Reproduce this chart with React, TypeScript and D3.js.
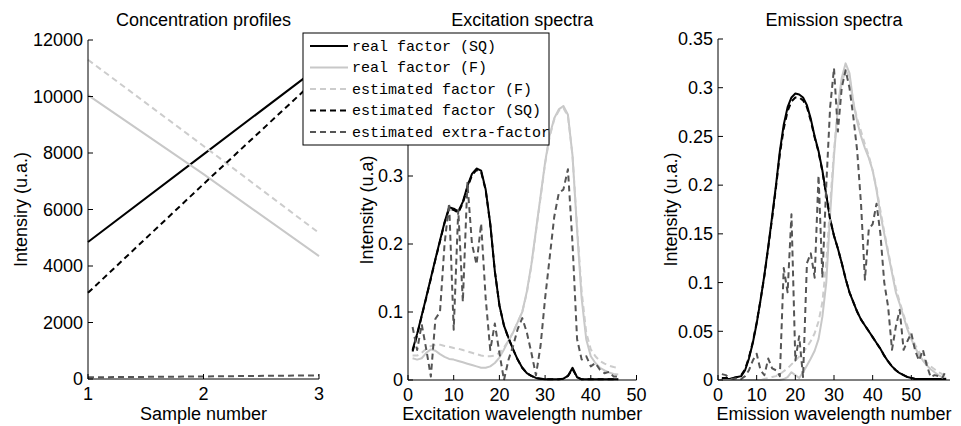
import React from 'react';
import * as d3 from 'd3';

// ---------- data ----------
const samples = [1, 2, 3];
const concRealSQ = [4850, 7950, 11050];
const concRealF = [10050, 7250, 4350];
const concEstF = [11300, 8250, 5170];
const concEstSQ = [3050, 6900, 10700];
const concExtra = [60, 90, 130];

const exIdx = d3.range(1, 47);
const exRealSQ = [0.044, 0.068, 0.095, 0.122, 0.15, 0.178, 0.205, 0.232, 0.254, 0.252, 0.248, 0.262, 0.285, 0.303, 0.311, 0.308, 0.28, 0.23, 0.16, 0.11, 0.08, 0.062, 0.045, 0.03, 0.018, 0.01, 0.006, 0.003, 0.002, 0.001, 0.001, 0.001, 0.001, 0.002, 0.006, 0.018, 0.004, 0.001, 0.001, 0.001, 0.001, 0.001, 0.001, 0.001, 0.001, 0.001];
const exRealF = [0.032, 0.03, 0.032, 0.04, 0.045, 0.043, 0.038, 0.034, 0.031, 0.03, 0.028, 0.026, 0.024, 0.022, 0.02, 0.018, 0.018, 0.02, 0.025, 0.033, 0.045, 0.058, 0.07, 0.085, 0.1, 0.13, 0.17, 0.22, 0.27, 0.32, 0.36, 0.385, 0.398, 0.403, 0.39, 0.33, 0.22, 0.12, 0.06, 0.035, 0.025, 0.018, 0.014, 0.011, 0.009, 0.008];
const exEstF = [0.036, 0.036, 0.04, 0.046, 0.05, 0.052, 0.052, 0.05, 0.049, 0.047, 0.046, 0.044, 0.042, 0.04, 0.038, 0.036, 0.035, 0.035, 0.036, 0.04, 0.048, 0.058, 0.07, 0.085, 0.1, 0.128, 0.168, 0.218, 0.268, 0.318, 0.358, 0.383, 0.396, 0.4, 0.388, 0.33, 0.225, 0.13, 0.07, 0.045, 0.035, 0.028, 0.024, 0.021, 0.019, 0.018];
const exEstSQ = [0.042, 0.066, 0.094, 0.121, 0.149, 0.177, 0.204, 0.231, 0.252, 0.25, 0.246, 0.26, 0.283, 0.301, 0.309, 0.306, 0.279, 0.229, 0.16, 0.11, 0.08, 0.061, 0.045, 0.03, 0.018, 0.01, 0.006, 0.003, 0.002, 0.001, 0.001, 0.001, 0.001, 0.002, 0.006, 0.016, 0.004, 0.001, 0.001, 0.001, 0.001, 0.001, 0.001, 0.001, 0.001, 0.001];
const exExtra = [0.078, 0.044, 0.082, 0.045, 0.005, 0.09, 0.1, 0.2, 0.26, 0.074, 0.25, 0.115, 0.29, 0.2, 0.17, 0.23, 0.12, 0.044, 0.083, 0.04, 0.0, 0.03, 0.05, 0.075, 0.091, 0.07, 0.04, 0.007, 0.05, 0.12, 0.18, 0.24, 0.275, 0.28, 0.31, 0.2, 0.06, 0.03, 0.035, 0.02, 0.025, 0.015, 0.01, 0.012, 0.005, 0.005];

const emIdx = d3.range(1, 60);
const emRealSQ = [0.001, 0.001, 0.001, 0.002, 0.003, 0.004, 0.01, 0.022, 0.038, 0.058, 0.082, 0.108, 0.137, 0.168, 0.2, 0.235, 0.262, 0.28, 0.29, 0.294, 0.293, 0.29, 0.282, 0.268, 0.25, 0.235, 0.215, 0.19, 0.165, 0.148, 0.135, 0.12, 0.104, 0.09, 0.08, 0.07, 0.062, 0.056, 0.05, 0.044, 0.038, 0.032, 0.025, 0.019, 0.014, 0.01, 0.007, 0.005, 0.003, 0.002, 0.001, 0.001, 0.001, 0.001, 0.001, 0.001, 0.001, 0.001, 0.001];
const emRealF = [0, 0, 0, 0, 0, 0, 0, 0, 0, 0, 0, 0, 0, 0, 0, 0, 0.001, 0.003, 0.008, 0.005, 0.002, 0.008, 0.015, 0.022, 0.03, 0.042, 0.065, 0.1, 0.17, 0.23, 0.28, 0.31, 0.325, 0.315, 0.285, 0.265, 0.25, 0.238, 0.228, 0.215, 0.195, 0.17, 0.15, 0.13, 0.11, 0.09, 0.078, 0.065, 0.052, 0.042, 0.033, 0.026, 0.02, 0.015, 0.011, 0.008, 0.005, 0.003, 0.002];
const emEstF = [0, 0, 0, 0, 0, 0, 0, 0, 0, 0, 0, 0.001, 0.002, 0.003, 0.004, 0.006, 0.009, 0.012, 0.016, 0.02, 0.024, 0.028, 0.034, 0.04, 0.048, 0.06, 0.08, 0.12, 0.18, 0.235, 0.28, 0.305, 0.318, 0.31, 0.285, 0.268, 0.255, 0.242, 0.23, 0.215, 0.197, 0.174, 0.152, 0.132, 0.112, 0.094, 0.08, 0.067, 0.055, 0.045, 0.036, 0.029, 0.023, 0.018, 0.014, 0.011, 0.008, 0.006, 0.005];
const emEstSQ = [0.002, 0.002, 0.002, 0.002, 0.003, 0.005, 0.011, 0.023, 0.039, 0.059, 0.082, 0.107, 0.136, 0.166, 0.198, 0.232, 0.258, 0.276, 0.286, 0.29, 0.29, 0.287, 0.28, 0.266, 0.249, 0.234, 0.214, 0.19, 0.165, 0.148, 0.135, 0.12, 0.104, 0.09, 0.08, 0.07, 0.062, 0.056, 0.05, 0.044, 0.038, 0.032, 0.025, 0.019, 0.014, 0.01, 0.007, 0.005, 0.003, 0.002, 0.001, 0.001, 0.001, 0.001, 0.001, 0.001, 0.001, 0.001, 0.001];
const emExtra = [0.006, 0.005, 0.002, 0.001, 0.002, 0.001, 0.004, 0.01, 0.02, 0.027, 0.01, 0.005, 0.022, 0.012, 0.01, 0.004, 0.115, 0.09, 0.17, 0.02, 0.045, 0.003, 0.12, 0.13, 0.105, 0.21, 0.105, 0.2, 0.28, 0.32, 0.255, 0.3, 0.318, 0.3, 0.27, 0.235, 0.18, 0.103, 0.155, 0.16, 0.181, 0.15, 0.1, 0.075, 0.031, 0.055, 0.072, 0.031, 0.04, 0.048, 0.03, 0.02, 0.031, 0.015, 0.003, 0.005, 0.004, 0.002, 0.01];

const legendLabels = ['real factor (SQ)', 'real factor (F)', 'estimated factor (F)', 'estimated factor (SQ)', 'estimated extra-factor'];
const titles = ['Concentration profiles', 'Excitation spectra', 'Emission spectra'];
const xLabels = ['Sample number', 'Excitation wavelength number', 'Emission wavelength number'];
const yLabels = ['Intensiry (u.a.)', 'Intensity (u.a)', 'Intensity (u.a.)'];
const conc_xTicks = [1, 2, 3];
const conc_yTicks = [0, 2000, 4000, 6000, 8000, 10000, 12000];
const ex_xTicks = [0, 10, 20, 30, 40, 50];
const ex_yTicks = [0, 0.1, 0.2, 0.3];
const em_xTicks = [0, 10, 20, 30, 40, 50];
const em_yTicks = [0, 0.05, 0.1, 0.15, 0.2, 0.25, 0.3, 0.35];

// ---------- styles ----------
const FONT = "'Liberation Sans', Arial, Helvetica, sans-serif";
const MONO = "'Liberation Mono', 'Courier New', Courier, monospace";
const FS = 18;
const styles = [
  { color: '#000000', dash: null, width: 2 },
  { color: '#c8c8c8', dash: null, width: 2 },
  { color: '#cccccc', dash: '6,4', width: 2 },
  { color: '#000000', dash: '6,4', width: 2 },
  { color: '#555555', dash: '6,4', width: 2 },
];

type PanelProps = {
  x0: number; x1: number; y0: number; y1: number;
  xDomain: [number, number]; yDomain: [number, number];
  xTicks: number[]; yTicks: number[];
  xs: number[]; series: number[][];
  title: string; xLabel: string; yLabel: string; yLabelX: number;
};

function fmt(t: number) {
  return String(+t.toFixed(4));
}

function Panel(p: PanelProps) {
  const x = d3.scaleLinear().domain(p.xDomain).range([p.x0, p.x1]);
  const y = d3.scaleLinear().domain(p.yDomain).range([p.y1, p.y0]);
  const line = d3.line<number>().x((_, i) => x(p.xs[i])).y((d) => y(d));
  const cx = (p.x0 + p.x1) / 2;
  const cy = (p.y0 + p.y1) / 2;
  return (
    <g>
      {p.series.map((s, i) => (
        <path key={i} d={line(s) || ''} fill="none" stroke={styles[i].color}
          strokeWidth={styles[i].width} strokeDasharray={styles[i].dash || undefined}
          strokeLinejoin="round" />
      ))}
      <line x1={p.x0} x2={p.x0} y1={p.y0} y2={p.y1} stroke="#000" strokeWidth={1} />
      <line x1={p.x0} x2={p.x1} y1={p.y1} y2={p.y1} stroke="#000" strokeWidth={1} />
      {p.yTicks.map((t) => (
        <g key={'y' + t}>
          <line x1={p.x0} x2={p.x0 + 5} y1={y(t)} y2={y(t)} stroke="#000" />
          <text x={p.x0 - 5} y={y(t)} dy="0.35em" textAnchor="end" fontFamily={FONT} fontSize={FS}>{fmt(t)}</text>
        </g>
      ))}
      {p.xTicks.map((t) => (
        <g key={'x' + t}>
          <line x1={x(t)} x2={x(t)} y1={p.y1} y2={p.y1 - 5} stroke="#000" />
          <text x={x(t)} y={p.y1 + 20.5} textAnchor="middle" fontFamily={FONT} fontSize={FS}>{fmt(t)}</text>
        </g>
      ))}
      <text x={cx} y={26} textAnchor="middle" fontFamily={FONT} fontSize={FS}>{p.title}</text>
      <text x={cx} y={420} textAnchor="middle" fontFamily={FONT} fontSize={FS}>{p.xLabel}</text>
      <text transform={`translate(${p.yLabelX},${cy}) rotate(-90)`} textAnchor="middle" fontFamily={FONT} fontSize={FS}>{p.yLabel}</text>
    </g>
  );
}

function Legend() {
  const lx = 303, ly = 33, lw = 246, lh = 112;
  const rowY = d3.scaleLinear().domain([0, 4]).range([46, 132]);
  return (
    <g>
      <rect x={lx} y={ly} width={lw} height={lh} fill="#fff" stroke="#000" strokeWidth={1} />
      {legendLabels.map((lab, i) => (
        <g key={lab}>
          <line x1={310} x2={348} y1={rowY(i)} y2={rowY(i)} stroke={styles[i].color}
            strokeWidth={styles[i].width} strokeDasharray={styles[i].dash || undefined} />
          <text x={352} y={rowY(i)} dy="0.33em" fontFamily={MONO} fontSize={15}>{lab}</text>
        </g>
      ))}
    </g>
  );
}

export default function App() {
  return (
    <div style={{ position: 'absolute', left: 0, top: 0 }}>
      <svg width={961} height={426} style={{ display: 'block', background: '#fff' }}>
        <Panel x0={88} x1={319} y0={40} y1={379} xDomain={[1, 3]} yDomain={[0, 12000]}
          xTicks={conc_xTicks} yTicks={conc_yTicks} xs={samples}
          series={[concRealSQ, concRealF, concEstF, concEstSQ, concExtra]}
          title={titles[0]} xLabel={xLabels[0]} yLabel={yLabels[0]} yLabelX={27} />
        <Panel x0={408} x1={636.5} y0={40} y1={380} xDomain={[0, 50]} yDomain={[0, 0.5]}
          xTicks={ex_xTicks} yTicks={ex_yTicks} xs={exIdx}
          series={[exRealSQ, exRealF, exEstF, exEstSQ, exExtra]}
          title={titles[1]} xLabel={xLabels[1]} yLabel={yLabels[1]} yLabelX={373} />
        <Panel x0={718} x1={950} y0={39} y1={380} xDomain={[0, 60]} yDomain={[0, 0.35]}
          xTicks={em_xTicks} yTicks={em_yTicks} xs={emIdx}
          series={[emRealSQ, emRealF, emEstF, emEstSQ, emExtra]}
          title={titles[2]} xLabel={xLabels[2]} yLabel={yLabels[2]} yLabelX={677} />
        <Legend />
      </svg>
    </div>
  );
}
